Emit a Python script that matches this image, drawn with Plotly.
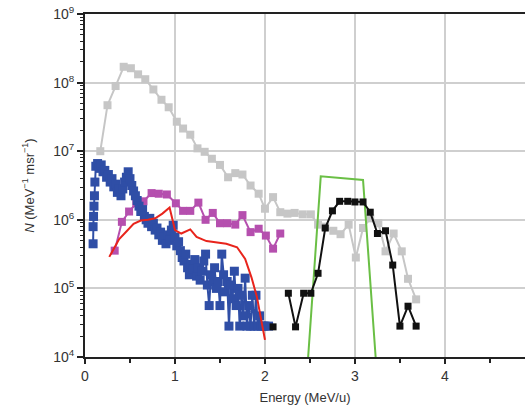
import plotly.graph_objects as go

# ---- data ----
gray_x = [0.17, 0.25, 0.34, 0.43, 0.51, 0.59, 0.67, 0.76, 0.85, 0.93, 1.02, 1.09, 1.17, 1.25,
          1.33, 1.41, 1.50, 1.59, 1.67, 1.75, 1.84, 1.93, 2.00, 2.09, 2.17, 2.25, 2.33, 2.42,
          2.51, 2.59, 2.67, 2.76, 2.84, 2.93, 3.01, 3.09, 3.17, 3.26, 3.34, 3.43, 3.52, 3.59, 3.68]
gray_y = [1.0e7, 4.68e7, 8.91e7, 1.70e8, 1.62e8, 1.32e8, 1.12e8, 7.94e7, 5.62e7, 4.37e7, 2.69e7,
          2.14e7, 1.74e7, 1.10e7, 9.8e6, 7.76e6, 6.31e6, 4.17e6, 4.79e6, 4.57e6, 3.16e6, 2.4e6,
          1.45e6, 2.14e6, 1.29e6, 1.23e6, 1.26e6, 1.2e6, 1.2e6, 8.5e5, 7.94e5, 6.92e5, 6.17e5,
          8.5e5, 2.82e5, 7.59e5, 1.05e6, 8.91e5, 3.47e5, 6.31e5, 3.47e5, 1.38e5, 6.92e4]

blue_x = [0.09, 0.09, 0.095, 0.10, 0.105, 0.11, 0.12, 0.14, 0.16, 0.18, 0.20, 0.22, 0.24, 0.26,
          0.28, 0.30, 0.32, 0.34, 0.36, 0.38, 0.40, 0.42, 0.44, 0.46, 0.48, 0.50, 0.52, 0.54,
          0.56, 0.58, 0.60, 0.62, 0.64, 0.66, 0.68, 0.70, 0.72, 0.74, 0.76, 0.78, 0.80, 0.82,
          0.84, 0.86, 0.88, 0.90, 0.92, 0.94, 0.96, 0.98, 1.00, 1.02, 1.04, 1.06, 1.08, 1.10,
          1.12, 1.14, 1.16, 1.18, 1.20, 1.22, 1.24, 1.26, 1.28, 1.30, 1.32, 1.34, 1.36, 1.38,
          1.40, 1.42, 1.44, 1.46, 1.48, 1.50, 1.52, 1.54, 1.56, 1.58, 1.60, 1.62, 1.64, 1.66,
          1.68, 1.70, 1.72, 1.74, 1.76, 1.78, 1.80, 1.82, 1.84, 1.86, 1.88, 1.90, 1.92, 1.94,
          1.96, 1.98, 2.00, 2.04]
blue_y = [4.47e5, 7.94e5, 1.12e6, 1.58e6, 2.24e6, 3.55e6, 6.03e6, 6.61e6, 5.62e6, 6.31e6, 5.01e6,
          5.25e6, 4.17e6, 4.57e6, 3.55e6, 3.98e6, 3.02e6, 3.31e6, 2.51e6, 2.82e6, 2.24e6, 2.82e6,
          3.55e6, 4.17e6, 5.01e6, 3.98e6, 3.16e6, 2.63e6, 2.24e6, 1.91e6, 1.58e6, 1.32e6, 1.41e6,
          1.12e6, 1.0e6, 8.91e5, 1.05e6, 7.94e5, 8.91e5, 7.08e5, 7.59e5, 6.03e5, 6.61e5, 5.01e5,
          5.62e5, 4.47e5, 6.03e5, 5.01e5, 7.08e5, 8.32e5, 5.62e5, 4.17e5, 4.79e5, 3.55e5, 2.82e5,
          2.51e5, 3.16e5, 2.0e5, 1.58e5, 2.24e5, 1.91e5, 2.63e5, 1.51e5, 2.0e5, 1.32e5, 1.78e5,
          2.51e5, 3.16e5, 1.12e5, 5.62e4, 1.58e5, 1.26e5, 2.0e5, 1.0e5, 1.26e5, 5.62e4, 3.16e5,
          1.58e5, 8.91e4, 1.26e5, 2.82e4, 1.12e5, 7.08e4, 1.78e5, 5.62e4, 1.0e5, 2.82e4, 7.94e4,
          3.98e4, 1.41e5, 2.82e4, 5.62e4, 2.82e4, 7.94e4, 2.82e4, 7.94e4, 2.82e4, 3.98e4, 2.82e4,
          2.82e4, 2.82e4, 2.82e4]

magenta_x = [0.33, 0.41, 0.49, 0.57, 0.65, 0.74, 0.82, 0.91, 1.01, 1.09, 1.17, 1.26, 1.34, 1.42,
             1.50, 1.58, 1.67, 1.75, 1.84, 1.93, 2.01, 2.09, 2.17]
magenta_y = [3.55e5, 9.33e5, 1.32e6, 1.74e6, 1.86e6, 2.45e6, 2.4e6, 2.34e6, 1.74e6, 1.35e6,
             1.35e6, 1.78e6, 1.0e6, 1.26e6, 8.91e5, 8.91e5, 8.51e5, 1.17e6, 6.61e5, 7.41e5,
             5.89e5, 3.8e5, 6.31e5]

red_x = [0.27, 0.33, 0.38, 0.46, 0.54, 0.62, 0.70, 0.78, 0.86, 0.94, 1.00, 1.07, 1.17, 1.24,
         1.35, 1.57, 1.69, 1.78, 1.85, 1.91, 1.96, 2.00]
red_y = [2.88e5, 3.98e5, 5.25e5, 6.76e5, 8.71e5, 9.77e5, 1.0e6, 1.05e6, 1.23e6, 1.51e6, 7.08e5,
         6.31e5, 7.24e5, 5.62e5, 4.9e5, 4.47e5, 3.98e5, 2.69e5, 1.45e5, 7.59e4, 3.47e4, 1.78e4]

black_x = [2.09, 2.17, 2.26, 2.34, 2.43, 2.51, 2.59, 2.67, 2.75, 2.83, 2.92, 3.00, 3.09, 3.17,
           3.25, 3.34, 3.42, 3.50, 3.59, 3.68]
black_y = [2.75e4, None, 8.5e4, 2.75e4, 8.5e4, 8.5e4, 1.66e5, 7.59e5, 1.35e6, 1.86e6, 1.86e6,
           1.82e6, 1.82e6, 1.29e6, 6.31e5, 6.92e5, 2.19e5, 2.82e4, 5.5e4, 2.82e4]

green_x = [2.48, 2.62, 3.09, 3.23]
green_y = [1.0e4, 4.3e6, 3.8e6, 1.0e4]

y_tickvals = [1e4, 1e5, 1e6, 1e7, 1e8, 1e9]
y_ticktext = ["10<sup>4</sup>", "10<sup>5</sup>", "10<sup>6</sup>", "10<sup>7</sup>",
              "10<sup>8</sup>", "10<sup>9</sup>"]
x_tickvals = [0, 1, 2, 3, 4]

FONT = "Liberation Sans, Arial, sans-serif"

fig = go.Figure()

def add(x, y, color, msize=None, width=2.0):
    mode = "lines+markers" if msize else "lines"
    fig.add_trace(go.Scatter(
        x=x, y=y, mode=mode,
        line=dict(color=color, width=width),
        marker=dict(symbol="square", size=msize or 1, color=color, line=dict(width=0)),
        connectgaps=False, showlegend=False, cliponaxis=True))

add(gray_x, gray_y, "#c6c6c6", 8, 2)
add(magenta_x, magenta_y, "#b54fae", 8, 2)
add(blue_x, blue_y, "#2f4ea6", 9, 2)
add(red_x, red_y, "#e8241c", None, 2)
add(green_x, green_y, "#6abf45", None, 2)
add(black_x, black_y, "#111111", 7, 2)

fig.update_layout(
    width=525, height=410,
    margin=dict(l=85, r=0, t=14, b=53),
    paper_bgcolor="white", plot_bgcolor="white",
    font=dict(family=FONT, size=14, color="#333333"),
)

fig.update_xaxes(
    range=[0, 4.89], tickvals=x_tickvals, ticks="outside", ticklen=5, tickwidth=2,
    tickcolor="#222222", automargin=False,
    showline=True, linecolor="#222222", linewidth=2, mirror=True,
    showgrid=True, gridcolor="#cfcfcf", gridwidth=1.5, zeroline=False,
    minor=dict(tickvals=[0.5, 1.5, 2.5, 3.5, 4.5], ticks="outside", ticklen=4,
               tickwidth=2, tickcolor="#222222", showgrid=False),
    tickfont=dict(size=14),
    title=dict(text="Energy (MeV/u)", font=dict(size=13), standoff=10),
)

fig.update_yaxes(
    type="log", range=[4, 9], tickvals=y_tickvals, ticktext=y_ticktext,
    ticks="outside", ticklen=6, tickwidth=1.5, tickcolor="#222222", automargin=False,
    showline=True, linecolor="#222222", linewidth=2,
    showgrid=True, gridcolor="#cfcfcf", gridwidth=1.5, zeroline=False,
    minor=dict(dtick="D1", ticks="outside", ticklen=3, tickwidth=1,
               tickcolor="#222222", showgrid=False),
    tickfont=dict(size=14),
    title=dict(text="<i>N</i> (MeV<sup>−1</sup> msr<sup>−1</sup>)", font=dict(size=13),
               standoff=16),
)

# remove the default page margin so the figure sits at the window's corner
fig.write_html("out.html", config={"displayModeBar": False},
               post_script="document.body.style.margin='0';")
